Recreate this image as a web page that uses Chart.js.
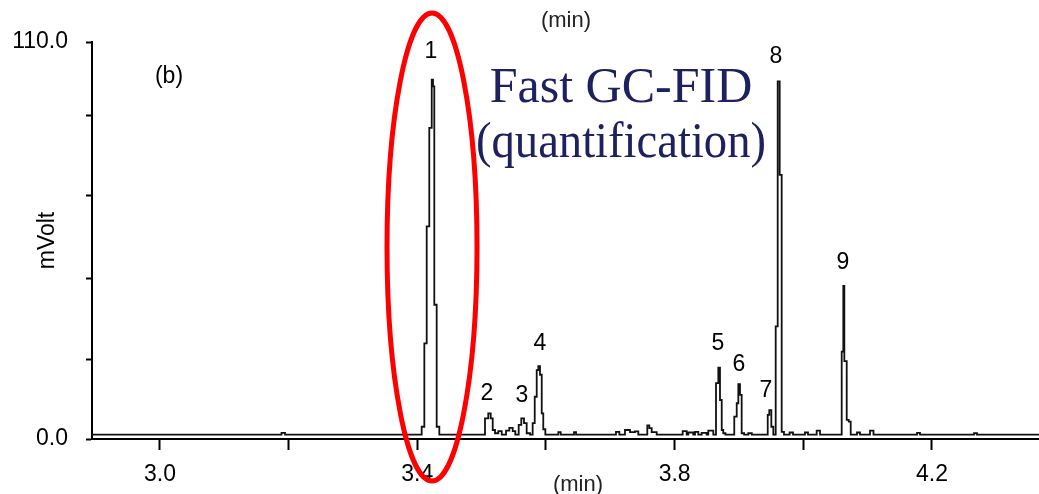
<!DOCTYPE html>
<html>
<head>
<meta charset="utf-8">
<script src="https://cdn.jsdelivr.net/npm/chart.js@4.4.1/dist/chart.umd.min.js"></script>
<style>
  html, body { margin: 0; padding: 0; background: #ffffff; }
  #wrap { width: 1039px; height: 494px; }
</style>
</head>
<body>
<div id="wrap"><canvas id="c" width="1039" height="494"></canvas></div>
<script>
// ---- data (retention time in min, signal in mVolt) ----
const retentionTime = [
  2.8943, 3.1889, 3.1943,
  3.4068, 3.4109, 3.4146, 3.4186, 3.4224, 3.4244, 3.4264, 3.4301, 3.4342,
  3.5052, 3.5103, 3.5141, 3.5172, 3.5208, 3.5259, 3.5312, 3.5379, 3.5430, 3.5483, 3.5523,
  3.5576, 3.5616, 3.5658, 3.5700, 3.5752,
  3.5793, 3.5825, 3.5856, 3.5881, 3.5907, 3.5934, 3.5958, 3.5990,
  3.6192, 3.6229, 3.6436, 3.6467, 3.7088, 3.7140, 3.7228, 3.7306, 3.7383, 3.7435, 3.7575, 3.7606, 3.7643, 3.7721,
  3.8125, 3.8187, 3.8212, 3.8290, 3.8317, 3.8368, 3.8420, 3.8497, 3.8523, 3.8601,
  3.8643, 3.8679, 3.8705, 3.8732, 3.8756, 3.8790,
  3.8927, 3.8965, 3.8990, 3.9016, 3.9042, 3.9080, 3.9145, 3.9200,
  3.9447, 3.9471, 3.9503, 3.9534,
  3.9571, 3.9602, 3.9633, 3.9664, 3.9700,
  3.9787, 3.9840, 4.0026, 4.0073, 4.0208, 4.0260,
  4.0597, 4.0622, 4.0638, 4.0675, 4.0706, 4.0737,
  4.0835, 4.0881, 4.1037, 4.1091, 4.1768, 4.1814, 4.2654, 4.2700, 4.3664
];
const signalMv = [
  1.2, 1.7, 1.2,
  3.4, 26.5, 58.9, 86.2, 99.6, 97.7, 37.2, 3.4, 1.2,
  5.7, 7.1, 5.7, 2.5, 1.6, 2.2, 1.2, 2.3, 3.1, 2.2, 1.2,
  3.9, 5.7, 4.4, 1.6, 1.2,
  4.4, 11.7, 19.1, 20.2, 17.8, 7.1, 2.7, 1.2,
  1.9, 1.2, 1.9, 1.2, 2.0, 1.2, 2.5, 1.9, 2.1, 1.2, 3.8, 3.0, 1.9, 1.2,
  2.2, 1.2, 1.8, 1.2, 2.0, 1.2, 1.7, 1.2, 2.3, 1.2,
  15.5, 19.8, 10.8, 2.5, 1.6, 1.2,
  6.2, 9.9, 15.2, 12.2, 1.6, 1.2, 1.6, 1.2,
  6.7, 8.0, 3.4, 1.2,
  31.2, 99.1, 73.2, 2.0, 1.2,
  1.8, 1.2, 1.8, 1.2, 2.3, 1.2,
  24.2, 42.4, 21.6, 5.3, 4.8, 1.2,
  1.8, 1.2, 2.3, 1.2, 1.7, 1.2, 1.6, 1.2, 1.2
];

// peak numbers and where their labels sit (time, mVolt)
const peakNames = ['1', '2', '3', '4', '5', '6', '7', '8', '9'];
const peakLabelTime = [3.4213, 3.5083, 3.5627, 3.5907, 3.8674, 3.9000, 3.9420, 3.9576, 4.0617];
const peakLabelMv   = [107.4, 12.5, 11.9, 26.4, 26.5, 20.5, 13.5, 106.0, 48.8];

// axis ticks
const xTickValues = [3.0, 3.2, 3.4, 3.6, 3.8, 4.0, 4.2];
const xTickLabels = ['3.0', '', '3.4', '', '3.8', '', '4.2'];
const yTickValues = [0, 22.1, 44.6, 67.4, 89.6, 110];
const yTickLabels = ['0.0', '', '', '', '', '110.0'];
const xRange = [2.8943, 4.3664];
const yRange = [0, 110];

const points = retentionTime.map((t, i) => ({ x: t, y: signalMv[i] }));
const SANS = '"Liberation Sans", Arial, sans-serif';

const annotations = {
  id: 'annotations',
  afterDraw(chart) {
    const ctx = chart.ctx;
    const xs = chart.scales.x, ys = chart.scales.y;
    ctx.save();
    // peak numbers
    ctx.fillStyle = '#000';
    ctx.font = '23px ' + SANS;
    ctx.textAlign = 'center';
    ctx.textBaseline = 'middle';
    peakNames.forEach((n, i) => {
      ctx.fillText(n, xs.getPixelForValue(peakLabelTime[i]), ys.getPixelForValue(peakLabelMv[i]));
    });
    // panel tag and time unit labels
    ctx.fillText('(b)', 169, 77);
    ctx.font = '22px ' + SANS;
    ctx.fillStyle = '#222';
    ctx.fillText('(min)', 566, 21);
    ctx.fillText('(min)', 578, 485);
    // overlay title
    ctx.fillStyle = '#1e2160';
    ctx.font = '50px "Liberation Serif", "Times New Roman", serif';
    ctx.textBaseline = 'alphabetic';
    ctx.fillText('Fast GC-FID', 621, 102, 266);
    ctx.fillText('(quantification)', 621, 157, 290);
    // red ellipse around peak 1
    const cx = xs.getPixelForValue(peakLabelTime[0]) + 1;
    ctx.strokeStyle = '#ff0000';
    ctx.lineWidth = 5;
    ctx.beginPath();
    ctx.ellipse(cx, 247, 45, 234, 0, 0, Math.PI * 2);
    ctx.stroke();
    ctx.restore();
  }
};

new Chart(document.getElementById('c'), {
  type: 'line',
  data: {
    datasets: [{
      data: points,
      stepped: true,
      borderColor: '#111',
      borderWidth: 1.8,
      pointRadius: 0,
      fill: false,
      tension: 0
    }]
  },
  options: {
    responsive: false,
    devicePixelRatio: 1,
    animation: false,
    layout: { padding: { top: 42, left: 0, right: 0, bottom: 0 } },
    plugins: { legend: { display: false }, tooltip: { enabled: false }, title: { display: false } },
    scales: {
      x: {
        type: 'linear',
        min: xRange[0],
        max: xRange[1],
        afterBuildTicks: s => { s.ticks = xTickValues.map(v => ({ value: v })); },
        afterFit: s => { s.height = 55; },
        border: { display: true, color: '#000', width: 2 },
        grid: { display: true, drawOnChartArea: false, drawTicks: true, tickLength: 11, tickColor: '#000', tickWidth: 2 },
        ticks: {
          autoSkip: false, maxRotation: 0, padding: 11, color: '#000',
          font: { family: SANS, size: 23 },
          callback: (v, i) => xTickLabels[i]
        }
      },
      y: {
        type: 'linear',
        min: yRange[0],
        max: yRange[1],
        afterBuildTicks: s => { s.ticks = yTickValues.map(v => ({ value: v })); },
        afterFit: s => { s.width = 92; },
        border: { display: true, color: '#000', width: 2 },
        grid: { display: true, drawOnChartArea: false, drawTicks: true, tickLength: 6, tickColor: '#000', tickWidth: 2 },
        title: {
          display: true, text: 'mVolt', color: '#000',
          font: { family: SANS, size: 23 },
          padding: { top: 34, bottom: 0 }
        },
        ticks: {
          autoSkip: false, padding: 18, color: '#000',
          font: { family: SANS, size: 23 },
          callback: (v, i) => yTickLabels[i]
        }
      }
    }
  },
  plugins: [annotations]
});
</script>
</body>
</html>
